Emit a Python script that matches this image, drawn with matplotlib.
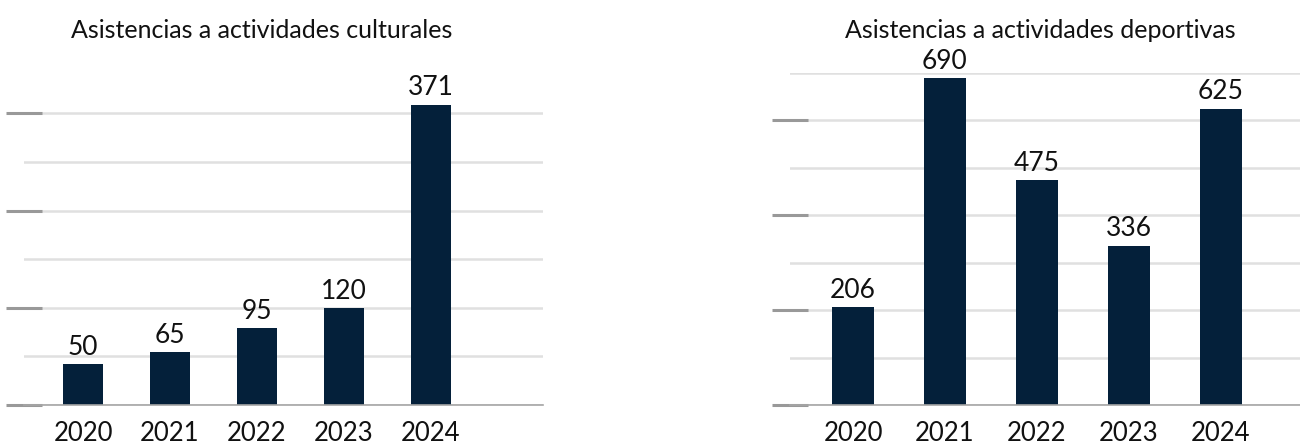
import numpy as np
import matplotlib
matplotlib.use("Agg")
import matplotlib.pyplot as plt
from matplotlib.ticker import MultipleLocator

plt.rcParams["font.family"] = ["Lato", "DejaVu Sans"]

years = ["2020", "2021", "2022", "2023", "2024"]
culturales = [50, 65, 95, 120, 371]
deportivas = [206, 690, 475, 336, 625]

BAR = "#04203a"
GRID = "#e0e0e0"
TICK = "#999999"

fig = plt.figure(figsize=(13, 4.45), dpi=100)

# left: culturales, right: deportivas
ax1 = fig.add_axes([0.0185, 0.09, 0.3992, 0.746])
ax2 = fig.add_axes([0.6077, 0.09, 0.3923, 0.746])


def draw(ax, values, ymax, step, xlim):
    x = np.arange(len(years))
    ax.set_axisbelow(True)
    bars = ax.bar(x, values, width=0.46, color=BAR, zorder=3)
    for b, v in zip(bars, values):
        ax.annotate(str(v), (b.get_x() + b.get_width() / 2, v),
                    xytext=(0, 3), textcoords="offset points",
                    ha="center", va="bottom", fontsize=19, color="#111111")
    ax.set_xlim(*xlim)
    ax.set_ylim(0, ymax)
    ax.set_xticks(x)
    ax.set_xticklabels(years, fontsize=18.5, color="#111111")
    ax.tick_params(axis="x", length=0, pad=11.5)
    ax.yaxis.set_major_locator(MultipleLocator(step * 2))
    ax.yaxis.set_minor_locator(MultipleLocator(step))
    ax.tick_params(axis="y", which="major", direction="inout", length=26.5,
                   width=2.2, color=TICK, labelleft=False)
    ax.tick_params(axis="y", which="minor", length=0)
    ax.grid(axis="y", which="both", color=GRID, linewidth=1.8)
    for s in ("left", "top", "right"):
        ax.spines[s].set_visible(False)
    ax.spines["bottom"].set_color("#a6a6a6")
    ax.spines["bottom"].set_linewidth(1.2)
    ax.spines["bottom"].set_zorder(4)


draw(ax1, culturales, 410, 60, (-0.678, 5.29))
draw(ax2, deportivas, 700, 100, (-0.685, 4.86))

fig.text(262 / 1300, 1 - 30 / 445, "Asistencias a actividades culturales",
         ha="center", va="center", fontsize=18, color="#111111")
fig.text(1040 / 1300, 1 - 30 / 445, "Asistencias a actividades deportivas",
         ha="center", va="center", fontsize=18, color="#111111")

fig.savefig("out.png", dpi=100, facecolor="white")
